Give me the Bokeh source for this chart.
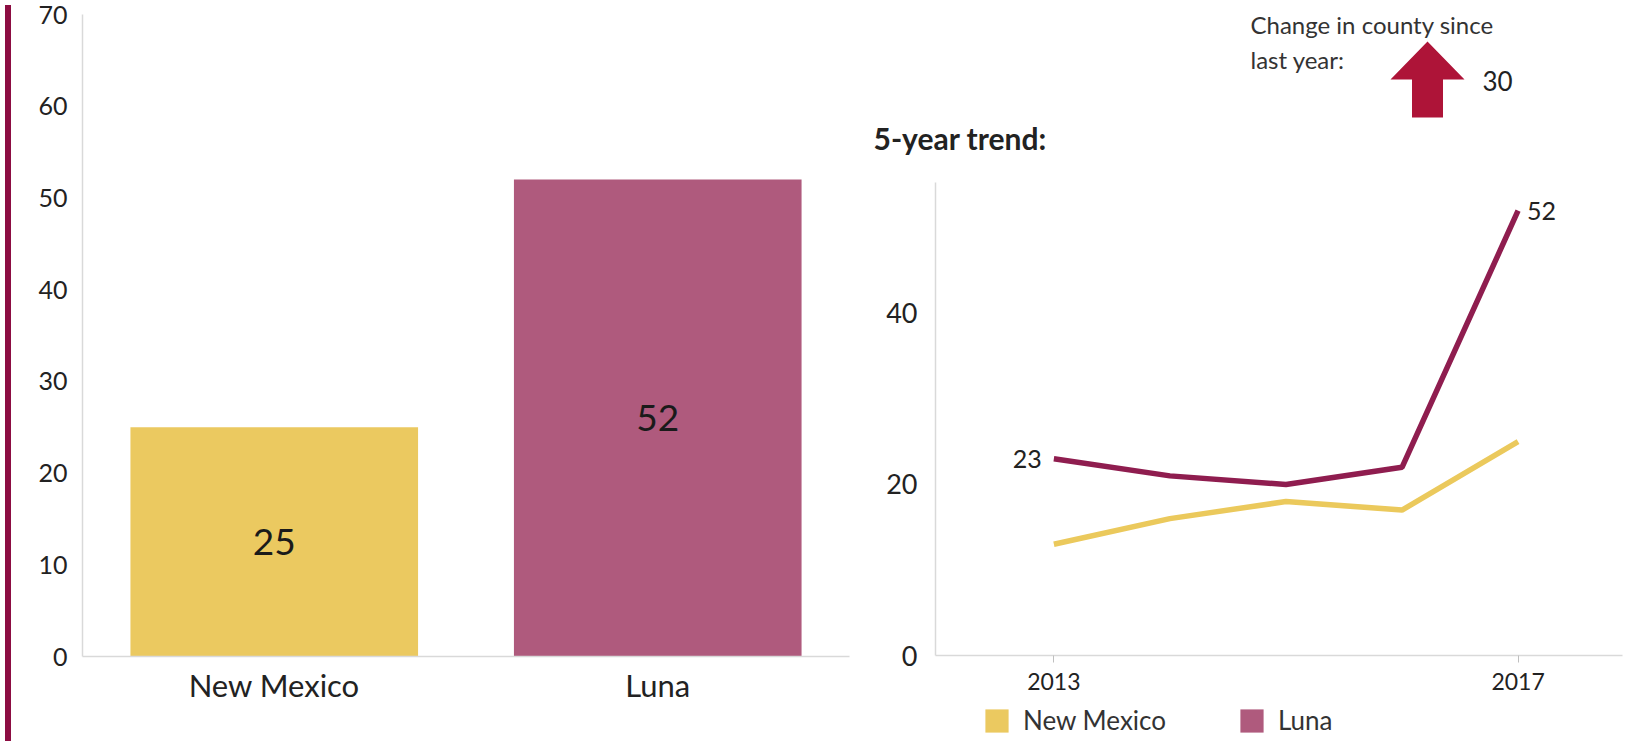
from bokeh.plotting import figure
from bokeh.models import Range1d, FactorRange, FixedTicker, Legend, LegendItem, Div, ColumnDataSource, Title
from bokeh.layouts import row, column
from bokeh.core.properties import value
from bokeh.embed import file_html
from bokeh.resources import INLINE

# ---------------- data ----------------
CATEGORIES = ["New Mexico", "Luna"]
CURRENT = [25, 52]
YEARS = [2013, 2014, 2015, 2016, 2017]
NM_TREND = [13, 16, 18, 17, 25]
LUNA_TREND = [23, 21, 20, 22, 52]
BAR_TICKS = [0, 10, 20, 30, 40, 50, 60, 70]
TREND_YTICKS = [0, 20, 40]
TREND_XTICKS = [2013, 2017]

# ---------------- styles ----------------
FONT = "Lato"
TXT = "#222222"
AXIS = "#d9d9d9"
NM_BAR = "#EBC960"
LUNA_BAR = "#AF5A7D"
NM_LINE = "#EBC95C"
LUNA_LINE = "#8F1D4F"
ARROW = "#AE1438"
STRIPE = "#8C0D42"

H = 736
RIGHT_L, RIGHT_R = 68, 15  # shared borders of the right-hand column
HEAD_H = 160               # header figure height (frame + title strip)


def clean(p):
    p.xgrid.visible = False
    p.ygrid.visible = False
    p.outline_line_color = None


# ---------------- left stripe ----------------
stripe = Div(text="", width=6, height=H, styles={"background-color": STRIPE})

# ---------------- bar chart ----------------
bar_src = ColumnDataSource(dict(cat=CATEGORIES, val=CURRENT, half=[v / 2 for v in CURRENT],
                                lab=[str(v) for v in CURRENT], col=[NM_BAR, LUNA_BAR]))
p1 = figure(x_range=FactorRange(*CATEGORIES), y_range=Range1d(0, 70), width=851, height=H,
            min_border_left=66, min_border_right=18, min_border_top=14, min_border_bottom=80,
            title=None, output_backend="svg", toolbar_location=None)
clean(p1)
p1.vbar(x="cat", top="val", width=0.75, fill_color="col", line_color=None, source=bar_src)
p1.text(x="cat", y="half", text="lab", source=bar_src, text_align="center", text_baseline="middle",
        text_font=value(FONT), text_font_size="37px", text_color="#1a1a1a")
p1.yaxis.ticker = FixedTicker(ticks=BAR_TICKS)
for ax in (p1.xaxis, p1.yaxis):
    ax.axis_line_color = AXIS
    ax.axis_line_width = 1.5
    ax.major_tick_line_color = None
    ax.minor_tick_line_color = None
    ax.major_tick_out = 0
    ax.major_label_text_font = FONT
    ax.major_label_text_color = TXT
p1.yaxis.major_label_text_font_size = "25px"
p1.yaxis.major_label_standoff = 15
p1.xaxis.major_label_text_font_size = "31px"
p1.xaxis.major_label_standoff = 9

# ---------------- header (change indicator + trend title) ----------------
change = LUNA_TREND[-1] - LUNA_TREND[-2]
p0 = figure(x_range=Range1d(933, 1620), y_range=Range1d(119, 1), width=770, height=HEAD_H,
            min_border_left=RIGHT_L, min_border_right=RIGHT_R, min_border_top=0, min_border_bottom=42,
            title=None, output_backend="svg", toolbar_location=None)
clean(p0)
p0.xaxis.visible = False
p0.yaxis.visible = False
ax0, tip_y, head_y, base_y, hw, sw = 1425, 42, 80, 118, 37, 15.5
p0.patch([ax0, ax0 + hw, ax0 + sw, ax0 + sw, ax0 - sw, ax0 - sw, ax0 - hw],
         [tip_y, head_y, head_y, base_y, base_y, head_y, head_y], color=ARROW, line_color=None)
p0.text(x=[1248, 1248], y=[25, 60], text=["Change in county since", "last year:"],
        text_align="left", text_baseline="middle", text_font=value(FONT),
        text_font_size="24px", text_color="#333333")
p0.text(x=[1480], y=[81], text=[str(change)], text_align="left", text_baseline="middle",
        text_font=value(FONT), text_font_size="26px", text_color=TXT)
p0.add_layout(Title(text="5-year trend:", align="left", offset=-62, standoff=2,
                    vertical_align="top", text_font=FONT, text_font_size="30px",
                    text_font_style="bold", text_color=TXT), "below")

# ---------------- trend chart ----------------
p2 = figure(x_range=Range1d(2011.98, 2017.9), y_range=Range1d(0, 55.3), width=770, height=H - HEAD_H - 36,
            min_border_left=RIGHT_L, min_border_right=RIGHT_R, min_border_top=22, min_border_bottom=45,
            title=None, output_backend="svg", toolbar_location=None)
clean(p2)
p2.line(YEARS, NM_TREND, line_color=NM_LINE, line_width=5.5)
p2.line(YEARS, LUNA_TREND, line_color=LUNA_LINE, line_width=5.5)
p2.text(x=[YEARS[0]], y=[LUNA_TREND[0]], text=[str(LUNA_TREND[0])], x_offset=-12,
        text_align="right", text_baseline="middle", text_font=value(FONT),
        text_font_size="25px", text_color=TXT)
p2.text(x=[YEARS[-1]], y=[LUNA_TREND[-1]], text=[str(LUNA_TREND[-1])], x_offset=9,
        text_align="left", text_baseline="middle", text_font=value(FONT),
        text_font_size="25px", text_color=TXT)
p2.yaxis.ticker = FixedTicker(ticks=TREND_YTICKS)
p2.xaxis.ticker = FixedTicker(ticks=TREND_XTICKS)
for ax in (p2.xaxis, p2.yaxis):
    ax.axis_line_color = AXIS
    ax.axis_line_width = 1.5
    ax.minor_tick_line_color = None
    ax.major_label_text_font = FONT
    ax.major_label_text_color = TXT
p2.yaxis.major_tick_line_color = None
p2.yaxis.major_tick_out = 0
p2.yaxis.major_label_text_font_size = "27px"
p2.yaxis.major_label_standoff = 18
p2.xaxis.major_tick_line_color = "#bfbfbf"
p2.xaxis.major_tick_in = 0
p2.xaxis.major_tick_out = 7
p2.xaxis.major_label_text_font_size = "23px"
p2.xaxis.major_label_standoff = 10

# ---------------- legend strip ----------------
p3 = figure(x_range=Range1d(0, 1), y_range=Range1d(0, 1), width=770, height=36,
            min_border_left=RIGHT_L, min_border_right=RIGHT_R, min_border_top=0, min_border_bottom=0,
            title=None, output_backend="svg", toolbar_location=None)
clean(p3)
p3.xaxis.visible = False
p3.yaxis.visible = False
# placeholder glyphs (outside the visible range) that only provide the legend swatches
r_nm = p3.vbar(x=[-5], top=[-5], width=0.5, fill_color=NM_BAR, line_color=None)
r_lu = p3.vbar(x=[-5], top=[-5], width=0.5, fill_color=LUNA_BAR, line_color=None)
legend = Legend(items=[LegendItem(label=CATEGORIES[0], renderers=[r_nm]),
                       LegendItem(label=CATEGORIES[1], renderers=[r_lu])],
                location=(47, 0), orientation="horizontal", glyph_width=29, glyph_height=29,
                label_standoff=12, label_width=214, spacing=0, padding=0, margin=0,
                border_line_color=None, background_fill_alpha=0,
                label_text_font=FONT, label_text_font_size="26px", label_text_color="#333333")
p3.add_layout(legend)

layout = row(stripe, p1, column(p0, p2, p3))
open("out.html", "w").write(file_html(layout, INLINE, title="chart"))
